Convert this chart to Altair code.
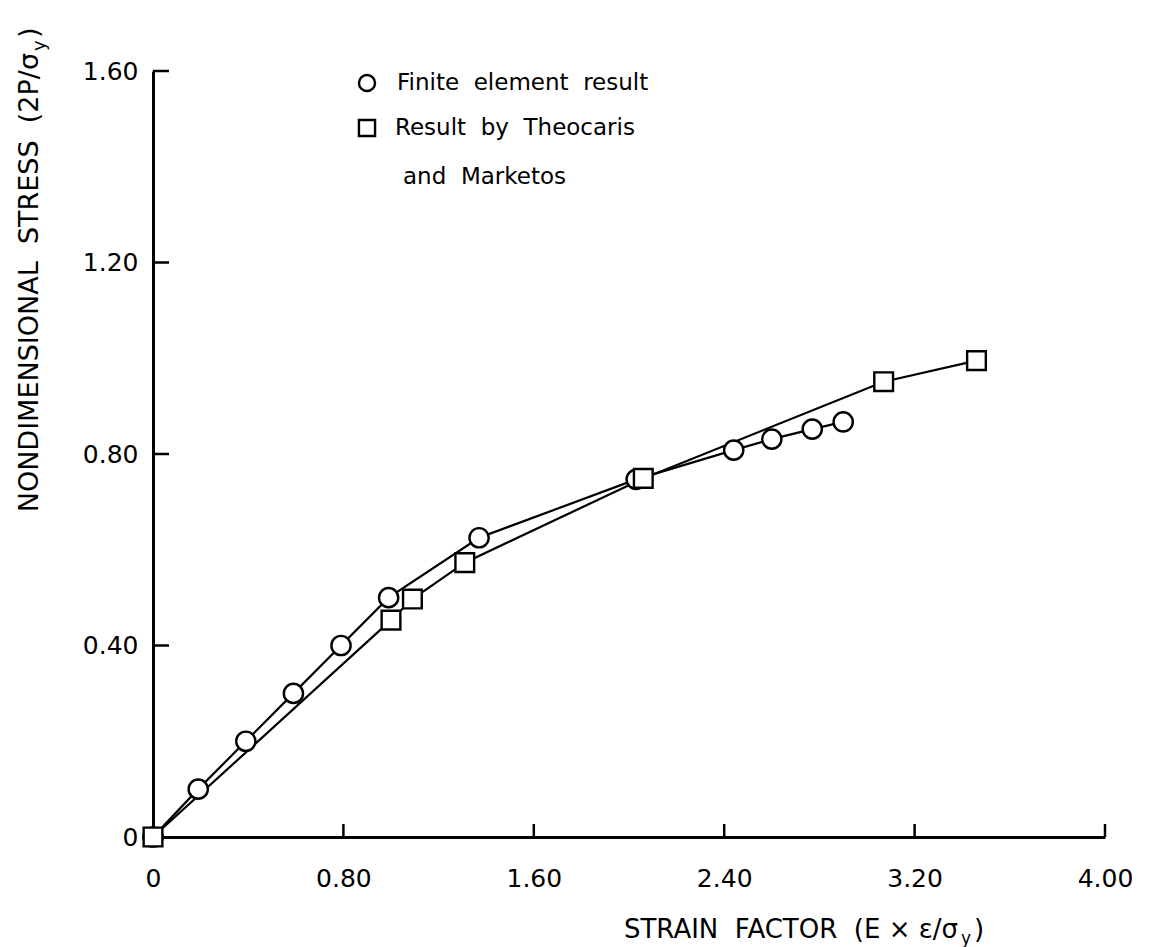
import json
import altair as alt
import pandas as pd

# ---- data ----
fe_x = [0.0, 0.19, 0.39, 0.59, 0.79, 0.99, 1.37, 2.03, 2.44, 2.60, 2.77, 2.90]
fe_y = [0.0, 0.10, 0.20, 0.30, 0.40, 0.50, 0.625, 0.747, 0.808, 0.831, 0.852, 0.867]
tm_x = [0.0, 1.00, 1.09, 1.31, 2.06, 3.07, 3.46]
tm_y = [0.0, 0.453, 0.497, 0.573, 0.749, 0.951, 0.995]

x_ticks = [0, 0.8, 1.6, 2.4, 3.2, 4.0]
x_tick_labels = ["0", "0.80", "1.60", "2.40", "3.20", "4.00"]
y_ticks = [0, 0.4, 0.8, 1.2, 1.6]
y_tick_labels = ["0", "0.40", "0.80", "1.20", "1.60"]

series_names = ["Finite element result", "Result by Theocaris and Marketos"]
legend_lines = ["Finite element result", "Result by Theocaris", "and Marketos"]

# ---- layout ----
W, H = 952, 766
FONT = "DejaVu Sans"
NB = "\u00a0"

pts = pd.DataFrame({
    "x": fe_x + tm_x,
    "y": fe_y + tm_y,
    "series": [series_names[0]] * len(fe_x) + [series_names[1]] * len(tm_x),
})

xs = alt.Scale(domain=[0, 4], nice=False, zero=False)
ys = alt.Scale(domain=[0, 1.6], nice=False, zero=False)

def lab_expr(vals, labs):
    return f"{json.dumps(labs)}[indexof({json.dumps(vals)}, datum.value)]"

x_axis = alt.Axis(values=x_ticks, labelExpr=lab_expr(x_ticks, x_tick_labels), title=None,
                  grid=False, ticks=False, tickSize=0, domainColor="black", domainWidth=3,
                  labelFont=FONT, labelFontSize=25, labelColor="black", labelPadding=29,
                  labelFlush=False, labelOverlap=False)
y_axis = alt.Axis(values=y_ticks, labelExpr=lab_expr(y_ticks, y_tick_labels), title=None,
                  grid=False, ticks=False, tickSize=0, domainColor="black", domainWidth=3,
                  labelFont=FONT, labelFontSize=25, labelColor="black", labelPadding=15,
                  labelFlush=False, labelOverlap=False, labelBaseline="middle")

shape_scale = alt.Scale(domain=series_names, range=["circle", "square"])
size_scale = alt.Scale(domain=series_names, range=[370, 350])

X = alt.X("x:Q", scale=xs, axis=x_axis)
Y = alt.Y("y:Q", scale=ys, axis=y_axis)

lines = alt.Chart(pts).mark_line(color="black", strokeWidth=2.2).encode(
    x=X, y=Y, detail="series:N",
)

points = alt.Chart(pts).mark_point(filled=True, fill="white", stroke="black",
                                   strokeWidth=2.4, opacity=1).encode(
    x=X, y=Y,
    shape=alt.Shape("series:N", scale=shape_scale, legend=None),
    size=alt.Size("series:N", scale=size_scale, legend=None),
)

# inward tick marks
xt = pd.DataFrame({"x": [v for v in x_ticks if v != 0]})
yt = pd.DataFrame({"y": [v for v in y_ticks if v != 0]})
x_tick_rules = alt.Chart(xt).mark_rule(color="black", strokeWidth=2.5).encode(
    x=X, y=alt.value(H), y2=alt.value(H - 13))
y_tick_rules = alt.Chart(yt).mark_rule(color="black", strokeWidth=2.5).encode(
    y=Y, x=alt.value(0), x2=alt.value(16))

def txt(s, x, y, size=22, align="left", angle=0, baseline="middle"):
    kw = dict(font=FONT, fontSize=size, color="black", align=align, baseline=baseline)
    if angle:
        kw["angle"] = angle
    return alt.Chart(pd.DataFrame({"t": [s]})).mark_text(**kw).encode(
        text="t:N", x=alt.value(x), y=alt.value(y))

def sym(shape, x, y, size):
    return alt.Chart(pd.DataFrame({"s": [shape]})).mark_point(
        filled=True, fill="white", stroke="black", strokeWidth=2.4, opacity=1,
        shape=shape, size=size).encode(x=alt.value(x), y=alt.value(y))

# legend (manual)
legend = [
    sym("circle", 214, 12, 260),
    txt(legend_lines[0].replace(" ", NB * 2), 244, 12, 23),
    sym("square", 214, 57, 260),
    txt(legend_lines[1].replace(" ", NB * 2), 242, 57, 23),
    txt(legend_lines[2].replace(" ", NB * 2), 250, 106, 23),
]

# axis titles with subscript y
x_title = [
    txt(f"STRAIN{NB*2}FACTOR{NB*2}(E{NB}×{NB}ε/σ", 805, 867, 26, align="right", baseline="alphabetic"),
    txt("y", 808, 873, 17, align="left", baseline="alphabetic"),
    txt(")", 821, 867, 26, align="left", baseline="alphabetic"),
]
y_title = [
    txt(f"NONDIMENSIONAL{NB*2}STRESS{NB*2}(2P/σ", -115, -18, 27, align="right", angle=270, baseline="alphabetic"),
    txt("y", -108, -20, 18, align="left", angle=270, baseline="alphabetic"),
    txt(")", -115, -33, 27, align="left", angle=270, baseline="alphabetic"),
]

chart = alt.layer(lines, x_tick_rules, y_tick_rules, points, *legend, *x_title, *y_title).properties(
    width=W, height=H,
    autosize=alt.AutoSizeParams(type="none"),
    padding={"left": 145, "top": 63, "right": 49, "bottom": 110},
    background="white",
).configure_view(stroke=None)

chart.save("out.html", embed_options={"renderer": "svg", "actions": False})
